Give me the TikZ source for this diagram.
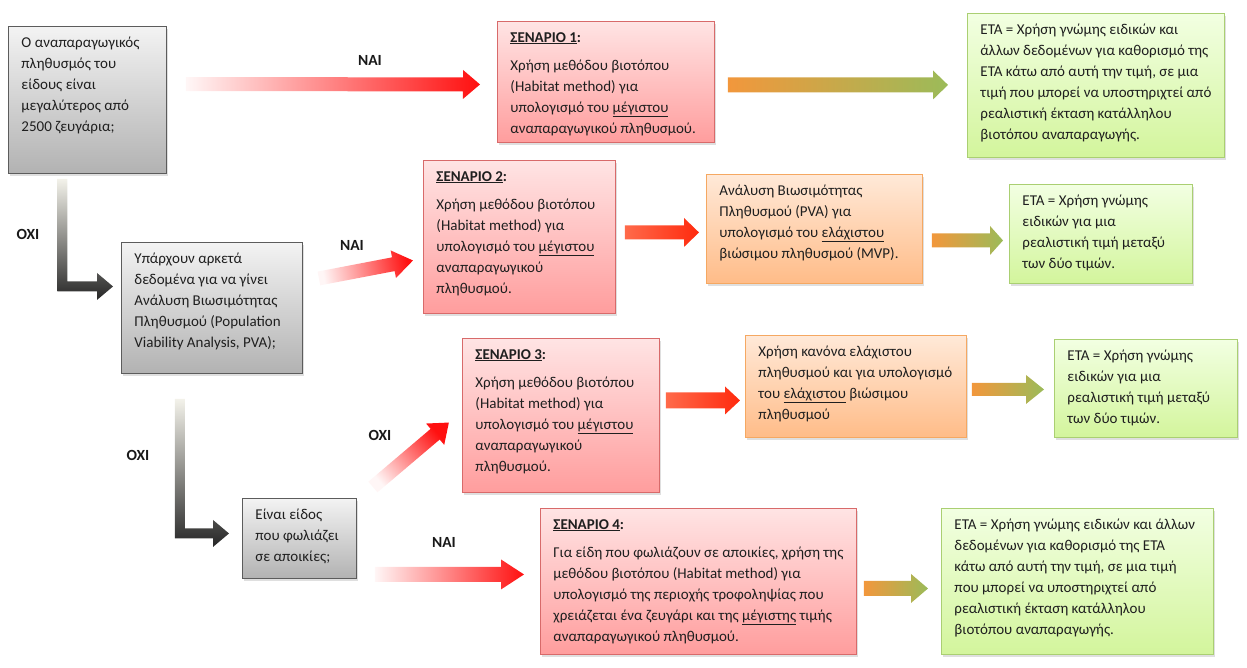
\documentclass[tikz,border=0pt]{standalone}
\usepackage{fontspec}
\setmainfont{Carlito}
\usetikzlibrary{calc,shadows}

\definecolor{grtop}{HTML}{F3F3F3}
\definecolor{grbot}{HTML}{B2B2B2}
\definecolor{grline}{HTML}{5C5C5C}
\definecolor{rdtop}{HTML}{FFE4E4}
\definecolor{rdbot}{HTML}{FF9D9D}
\definecolor{rdline}{HTML}{D86A6A}
\definecolor{ortop}{HTML}{FFE9D8}
\definecolor{orbot}{HTML}{FFBC88}
\definecolor{orline}{HTML}{F5A862}
\definecolor{gntop}{HTML}{F2FFE2}
\definecolor{gnbot}{HTML}{D3F59C}
\definecolor{gnline}{HTML}{AACF72}
\definecolor{naired}{HTML}{FF1010}
\definecolor{naitail}{HTML}{FFF6F6}
\definecolor{rda}{HTML}{FF6A4A}
\definecolor{rdb}{HTML}{FF2A0E}
\definecolor{oga}{HTML}{F2973C}
\definecolor{ogb}{HTML}{9BBB59}
\definecolor{bnttop}{HTML}{F3F2EA}
\definecolor{bntbot}{HTML}{262626}

\newcommand\boxtext[3]{\parbox[c][\dimexpr#2pt-12pt\relax][t]{\dimexpr#1pt-26pt\relax}{\raggedright\strut #3}}
\newcommand\scenhead[1]{\textbf{\underline{ΣΕΝΑΡΙΟ #1}:}\\[7pt]}

% block arrow: colours, tail, tip, half shaft, half head, head length
\newcommand\barrow[6]{%
  \shade[#1] let \p1=#2, \p2=#3, \n1={atan2(\y2-\y1,\x2-\x1)}, \n2={veclen(\x2-\x1,\y2-\y1)} in
    [shift={(\p1)}, rotate=\n1, shading angle=90+\n1]
    (0,-#4) -- (\n2-#6,-#4) -- (\n2-#6,-#5) -- (\n2,0) -- (\n2-#6,#5) -- (\n2-#6,#4) -- (0,#4) -- cycle;}
% bent arrow: top of shaft, tip
\newcommand\bentarrow[2]{%
  \shade[bent] let \p1=#1, \p2=#2 in
    (\x1-5pt,\y1) -- (\x1+5pt,\y1) -- (\x1+5pt,\y2+5pt) -- (\x2-16pt,\y2+5pt) -- (\x2-16pt,\y2+13.5pt)
    -- (\x2,\y2) -- (\x2-16pt,\y2-13.5pt) -- (\x2-16pt,\y2-5pt) -- (\x1-5pt,\y2-5pt) -- cycle;}

\tikzset{
  box/.style={anchor=north west, inner xsep=13pt, inner ysep=6pt, line width=.9pt, text=black!88,
    font=\fontsize{15}{21}\selectfont, drop shadow={opacity=.25, shadow xshift=2pt, shadow yshift=-3pt}},
  qbox/.style={box, draw=grline, top color=grtop, bottom color=grbot},
  scen/.style={box, draw=rdline, top color=rdtop, bottom color=rdbot},
  mvp/.style={box, draw=orline, top color=ortop, bottom color=orbot},
  eta/.style={box, draw=gnline, top color=gntop, bottom color=gnbot},
  answer/.style={font=\bfseries\fontsize{15.5}{18}\selectfont, text=black!90},
  nai/.style={left color=naitail, right color=naired},
  redarr/.style={left color=rda, right color=rdb},
  ogarr/.style={left color=oga, right color=ogb},
  bent/.style={top color=bnttop, bottom color=bntbot}
}

\begin{document}
\begin{tikzpicture}[x=1pt,y=-1pt]
\useasboundingbox (0,0) rectangle (1247,667);

% questions
\node[qbox] (q1) at (8,26) {\boxtext{158}{147}{Ο αναπαραγωγικός\\πληθυσμός του\\είδους είναι\\μεγαλύτερος από\\2500 ζευγάρια;}};
\node[qbox] (q2) at (121,242) {\boxtext{181}{131}{Υπάρχουν αρκετά\\δεδομένα για να γίνει\\Ανάλυση Βιωσιμότητας\\Πληθυσμού (Population\\Viability Analysis, PVA);}};
\node[qbox] (q3) at (242,498) {\boxtext{114}{80}{Είναι είδος\\που φωλιάζει\\σε αποικίες;}};

% scenarios
\node[scen] (s1) at (497,21) {\boxtext{217}{121}{\scenhead{1}Χρήση μεθόδου βιοτόπου\\(Habitat method) για\\υπολογισμό του \underline{μέγιστου}\\αναπαραγωγικού πληθυσμού.}};
\node[scen] (s2) at (423,160) {\boxtext{192}{153}{\scenhead{2}Χρήση μεθόδου βιοτόπου\\(Habitat method) για\\υπολογισμό του \underline{μέγιστου}\\αναπαραγωγικού\\πληθυσμού.}};
\node[scen] (s3) at (462,338) {\boxtext{197}{154}{\scenhead{3}Χρήση μεθόδου βιοτόπου\\(Habitat method) για\\υπολογισμό του \underline{μέγιστου}\\αναπαραγωγικού\\πληθυσμού.}};
\node[scen] (s4) at (540,508) {\boxtext{316}{146}{\scenhead{4}Για είδη που φωλιάζουν σε αποικίες, χρήση της\\μεθόδου βιοτόπου (Habitat method) για\\υπολογισμό της περιοχής τροφοληψίας που\\χρειάζεται ένα ζευγάρι και της \underline{μέγιστης} τιμής\\αναπαραγωγικού πληθυσμού.}};

% minimum viable population
\node[mvp] (pva2) at (706,174) {\boxtext{216}{109}{Ανάλυση Βιωσιμότητας\\Πληθυσμού (PVA) για\\υπολογισμό του \underline{ελάχιστου}\\βιώσιμου πληθυσμού (MVP).}};
\node[mvp] (pva3) at (745,335) {\boxtext{221}{102}{Χρήση κανόνα ελάχιστου\\πληθυσμού και για υπολογισμό\\του \underline{ελάχιστου} βιώσιμου\\πληθυσμού}};

% ETA
\node[eta] (eta1) at (967,13) {\boxtext{257}{144}{ΕΤΑ = Χρήση γνώμης ειδικών και\\άλλων δεδομένων για καθορισμό της\\ΕΤΑ κάτω από αυτή την τιμή, σε μια\\τιμή που μπορεί να υποστηριχτεί από\\ρεαλιστική έκταση κατάλληλου\\βιοτόπου αναπαραγωγής.}};
\node[eta] (eta2) at (1009,184) {\boxtext{183}{99}{ΕΤΑ = Χρήση γνώμης\\ειδικών για μια\\ρεαλιστική τιμή μεταξύ\\των δύο τιμών.}};
\node[eta] (eta3) at (1054,339) {\boxtext{183}{98}{ΕΤΑ = Χρήση γνώμης\\ειδικών για μια\\ρεαλιστική τιμή μεταξύ\\των δύο τιμών.}};
\node[eta] (eta4) at (941,508) {\boxtext{272}{146}{ΕΤΑ = Χρήση γνώμης ειδικών και άλλων\\δεδομένων για καθορισμό της ΕΤΑ\\κάτω από αυτή την τιμή, σε μια τιμή\\που μπορεί να υποστηριχτεί από\\ρεαλιστική έκταση κατάλληλου\\βιοτόπου αναπαραγωγής.}};

% answers
\node[answer] (nai1) at (370,60) {ΝΑΙ};
\node[answer] (oxi1) at (28,234) {ΟΧΙ};
\node[answer] (nai2) at (352,245) {ΝΑΙ};
\node[answer] (oxi2) at (138,455) {ΟΧΙ};
\node[answer] (oxi3) at (380,435) {ΟΧΙ};
\node[answer] (nai4) at (444,542) {ΝΑΙ};

% arrows
\barrow{nai}{($(q1.north east)+(19,58)$)}{($(s1.west)+(-17,2.5)$)}{7}{14.5}{17}
\barrow{ogarr}{($(s1.east)+(13,3)$)}{($(eta1.west)+(-19,-0.5)$)}{7.5}{14.5}{15}
\bentarrow{($(q1.south)+(-25,5)$)}{($(q2.west)+(-8,-21.5)$)}
\barrow{nai}{($(q2.east)+(16,-29.5)$)}{($(s2.west)+(-10,23.5)$)}{7}{14}{20}
\barrow{redarr}{($(s2.east)+(9,-4.5)$)}{($(pva2.west)+(-7,3.5)$)}{7}{14.5}{15}
\barrow{ogarr}{($(pva2.east)+(9,11.5)$)}{($(eta2.west)+(-6,6.5)$)}{7}{14.5}{13}
\bentarrow{($(q2.south)+(-32,25)$)}{($(q3.west)+(-13,-5)$)}
\barrow{nai}{($(q3.north east)+(16,-11)$)}{($(s3.west)+(-13,7)$)}{7}{14}{18}
\barrow{redarr}{($(s3.east)+(6,-15)$)}{($(pva3.west)+(-5,14)$)}{8}{14}{15}
\barrow{ogarr}{($(pva3.east)+(5,3)$)}{($(eta3.west)+(-10,1)$)}{6.5}{14.5}{18}
\barrow{nai}{($(q3.east)+(18,36)$)}{($(s4.west)+(-16,-7)$)}{7.5}{15}{23}
\barrow{ogarr}{($(s4.east)+(7,7)$)}{($(eta4.west)+(-13,7)$)}{7.5}{14.5}{17}
\end{tikzpicture}
\end{document}
